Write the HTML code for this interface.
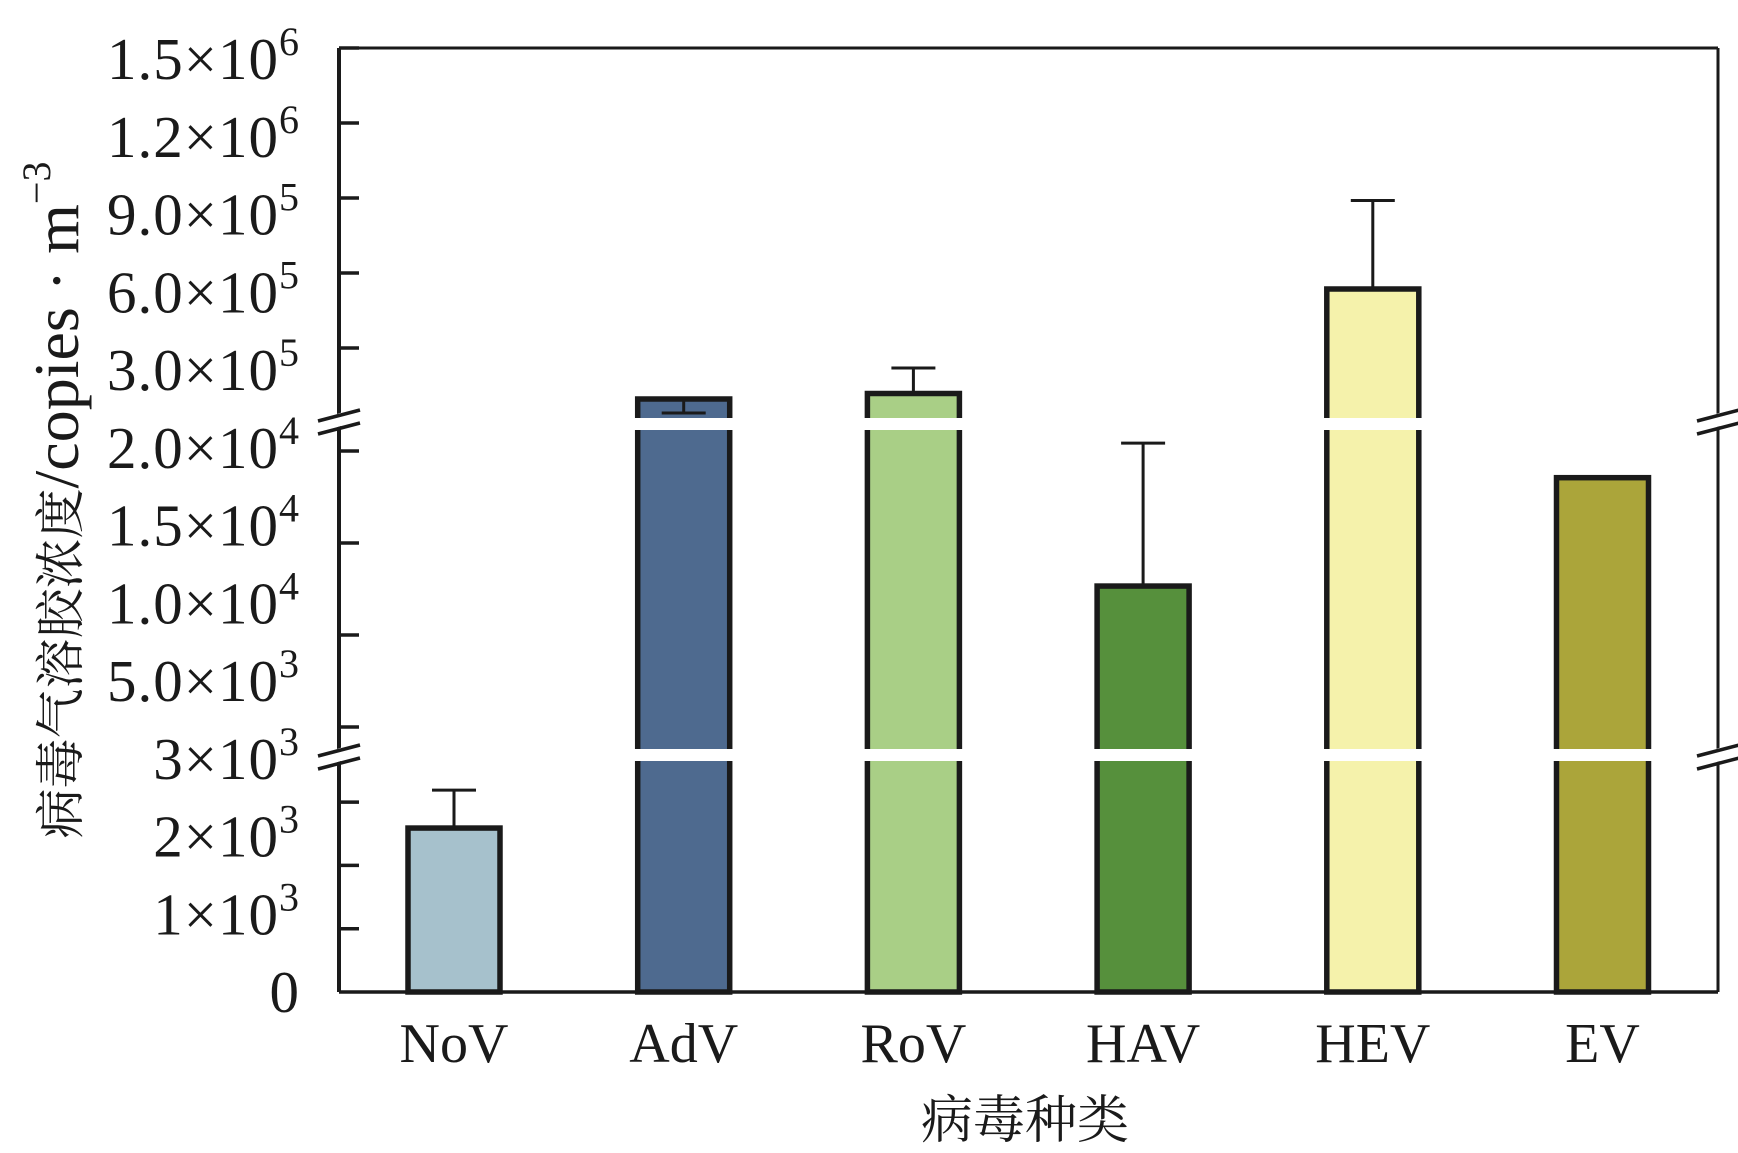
<!DOCTYPE html>
<html><head><meta charset="utf-8"><style>
html,body{margin:0;padding:0;background:#fff;}
svg text{font-family:"Liberation Serif","Noto Serif CJK SC",serif;fill:#1a1a1a;}
</style></head><body>
<svg id="chart" width="1738" height="1148" viewBox="0 0 1738 1148" xmlns="http://www.w3.org/2000/svg">
</svg>
<script>
const categories = ["NoV","AdV","RoV","HAV","HEV","EV"];
const means = [2590, 96000, 118000, 12660, 536000, 18550];
const errCaps = [3190, 40000, 220000, 20430, 890000, null];
const colors = ["#a6c1cc","#4e6a8f","#a9cf86","#56903c","#f5f2ab","#aba53a"];
const seg1Ticks = [0,1000,2000,3000];
const seg2Ticks = [5000,10000,15000,20000];
const seg3Ticks = [300000,600000,900000,1200000,1500000];
const tickLabels = ["0","1×10|3","2×10|3","3×10|3","5.0×10|3","1.0×10|4","1.5×10|4","2.0×10|4","3.0×10|5","6.0×10|5","9.0×10|5","1.2×10|6","1.5×10|6"];

const svg = document.getElementById('chart');
const NS = 'http://www.w3.org/2000/svg';
const L=339, R=1718, T=48, B=992;
function y(v){
  if(v<3500) return 992 - v/1000*63.3;
  if(v<21500) return 819 - v/5000*92;
  return 423 - v/300000*75;
}
function mk(tag, attrs, parent){const e=document.createElementNS(NS,tag);for(const k in attrs)e.setAttribute(k,attrs[k]);(parent||svg).appendChild(e);return e;}

// bars
const slot=229.7;
categories.forEach((c,i)=>{
  const cx=454+slot*i;
  const w=92, top=y(means[i]);
  const r=mk('rect',{x:cx-w/2,y:top,width:w,height:B-top,fill:colors[i],stroke:'#1a1a1a','stroke-width':5.5});
  
  
  if(errCaps[i]!==null){
    const cy=y(errCaps[i]);
    const g=mk('g',{stroke:'#1a1a1a','stroke-width':3});
    
    
    mk('line',{x1:cx,x2:cx,y1:top,y2:cy},g);
    mk('line',{x1:cx-22,x2:cx+22,y1:cy,y2:cy},g);
  }
  const t=mk('text',{x:cx,y:1062,'text-anchor':'middle','font-size':56});
  t.textContent=c;
  
  
});
// break gaps
[424,755].forEach((by,k)=>{
  const g=mk('rect',{x:L+3,y:by-6,width:R-L-6,height:12,fill:'#fff'});
  
  
});
// frame
const fr=mk('g',{stroke:'#1a1a1a',fill:'none'});


mk('line',{x1:L,x2:R,y1:T,y2:T,'stroke-width':3},fr);
mk('line',{x1:R,x2:R,y1:T,y2:B,'stroke-width':3},fr);
mk('line',{x1:L,x2:R,y1:B,y2:B,'stroke-width':3.5},fr);
mk('line',{x1:L,x2:L,y1:T,y2:B,'stroke-width':4},fr);
// ticks
const tg=mk('g',{stroke:'#1a1a1a','stroke-width':3.5});


seg1Ticks.concat(seg2Ticks,seg3Ticks).forEach(v=>{
  if(v===0) return;
  const ty=y(v);
  mk('line',{x1:L,x2:L+20,y1:ty,y2:ty},tg);
});
// break marks
[[420,L],[755,L],[420,R],[755,R]].forEach(([by,bx],k)=>{
  const g=mk('g',{stroke:'#fff','stroke-width':12});
  
  
  mk('line',{x1:bx-2,x2:bx+2,y1:by-6,y2:by+6},g);
  const s=mk('g',{stroke:'#1a1a1a','stroke-width':3.5});
  mk('line',{x1:bx-21,x2:bx+21,y1:by+1,y2:by-10},s);
  mk('line',{x1:bx-21,x2:bx+21,y1:by+14,y2:by+3},s);
});
// tick labels evenly spaced
tickLabels.forEach((lab,i)=>{
  const ly=990 - i*77.75 + 22;
  const t=mk('text',{x:300,y:ly,'text-anchor':'end','font-size':59,'letter-spacing':1});
  
  
  const parts=lab.split('|');
  t.textContent=parts[0];
  if(parts[1]){const s=mk('tspan',{dy:-24,'font-size':40},t);s.textContent=parts[1];}
});
// axis titles
const yt=mk('text',{x:0,y:0,'text-anchor':'middle','font-size':50,transform:'translate(78,500) rotate(-90)'});


const t1=mk('tspan',{},yt);t1.textContent='病毒气溶胶浓度';
const t2=mk('tspan',{'font-size':64},yt);t2.textContent='/copies · m';
const sup=mk('tspan',{dy:-28,'font-size':40},yt);sup.textContent='−3';
const xt=mk('text',{x:1025,y:1138,'text-anchor':'middle','font-size':52});


xt.textContent='病毒种类';
</script>
</body></html>
